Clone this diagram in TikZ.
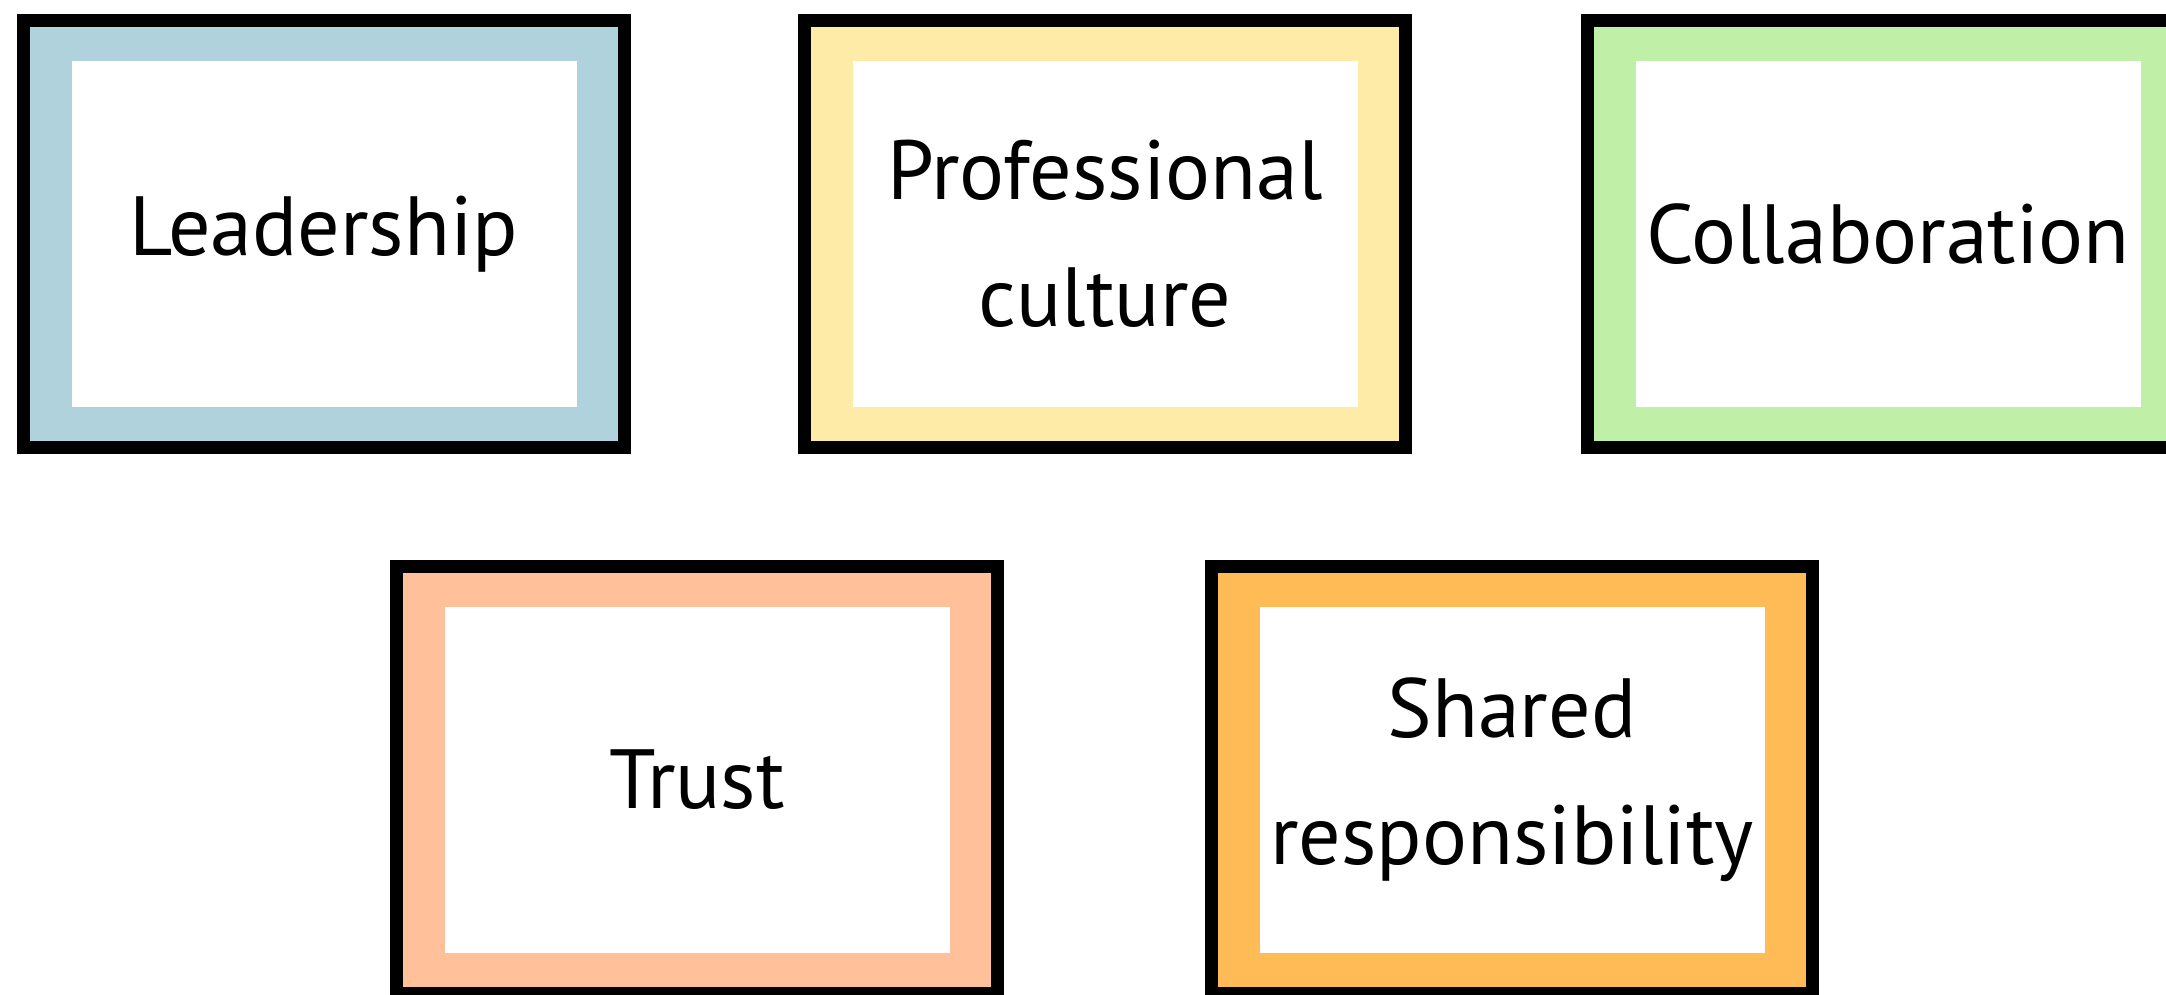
\documentclass[tikz,border=0pt]{standalone}
\usepackage{fontspec}
\setmainfont{PT Sans}
\definecolor{leadblue}{RGB}{176,210,220}
\definecolor{profyellow}{RGB}{255,235,168}
\definecolor{collgreen}{RGB}{192,240,168}
\definecolor{trustpeach}{RGB}{255,192,154}
\definecolor{shareorange}{RGB}{255,187,85}
\begin{document}
\begin{tikzpicture}[x=0.25pt,y=-0.25pt,
 card/.style={draw=black,line width=3.25pt,inner sep=0pt,minimum width=150.25pt,minimum height=106.75pt},
 cardtext/.style={fill=white,inner sep=0pt,minimum width=126.25pt,minimum height=86.5pt,align=center,font=\fontsize{21}{31.8}\selectfont}]
 \useasboundingbox (0,0) rectangle (2166,995);
 \clip (0,0) rectangle (2166,995);
 \node[card,fill=leadblue](lead) at (324,234) {};
 \node[cardtext](leadtext) at (lead) {Leadership};
 \node[card,fill=profyellow](prof) at (1105,234) {};
 \node[cardtext](proftext) at (prof) {Professional\\culture};
 \node[card,fill=collgreen](coll) at (1888,234) {};
 \node[cardtext](colltext) at (coll) {Collaboration};
 \node[card,fill=trustpeach](trust) at (697,780) {};
 \node[cardtext](trusttext) at (trust) {Trust};
 \node[card,fill=shareorange](share) at (1512,780) {};
 \node[cardtext](sharetext) at (share) {Shared\\responsibility};
\end{tikzpicture}
\end{document}
